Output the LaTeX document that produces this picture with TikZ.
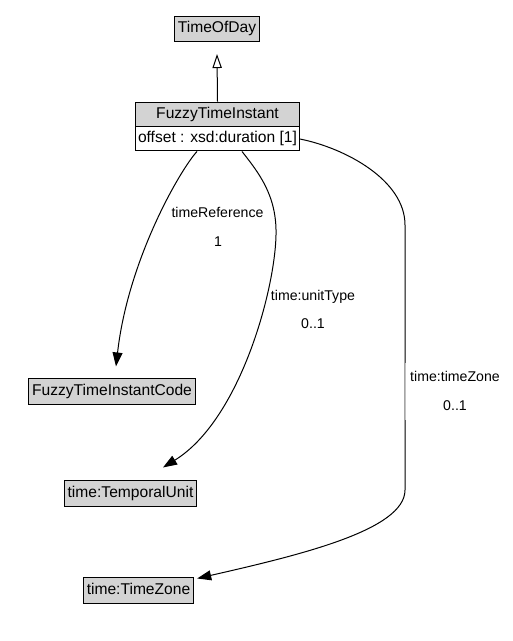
\documentclass[tikz,border=0pt]{standalone}
\usepackage{fontspec}
\setmainfont{Liberation Sans}
\usetikzlibrary{calc,arrows.meta,shapes.multipart}

\definecolor{classgray}{RGB}{211,211,211}
\newcommand{\umlstrut}{\rule[-3pt]{0pt}{12pt}}

\tikzset{every picture/.style={line width=0.75pt}}
\tikzset{
  classbox/.style={draw, fill=classgray, inner xsep=2.6pt, inner ysep=3.4pt,
    text height=9pt, text depth=3pt, font=\fontsize{11.7}{14}\selectfont},
  classsplit/.style={draw, rectangle split, rectangle split parts=2,
    rectangle split part fill={classgray,white}, inner xsep=1.8pt, inner ysep=2.8pt,
    font=\fontsize{11.7}{14}\selectfont},
  edgelabel/.style={inner sep=0pt, text height=9pt, text depth=3pt,
    font=\fontsize{10.6}{13}\selectfont},
  assoc/.style={-{Triangle[length=10.5pt,width=7.5pt]}},
  generalization/.style={-{Triangle[open,length=10.5pt,width=7pt]}}
}

\begin{document}
\begin{tikzpicture}[x=0.75pt,y=0.75pt,yscale=-1,xscale=1]
	\useasboundingbox (0,0) rectangle (512,641);

	% Class Node
	\node[classbox] (tod) at (217,29) {TimeOfDay};
	% Class Node
	\node[classsplit] (fti) at (217.5,126.5) {\umlstrut FuzzyTimeInstant \nodepart{two} \umlstrut offset : xsd:duration [1]};
	% Class Node
	\node[classbox] (code) at (112,391.5) {FuzzyTimeInstantCode};
	% Class Node
	\node[classbox] (unit) at (130.5,493.5) {time:TemporalUnit};
	% Class Node
	\node[classbox] (zone) at (138.5,590.5) {time:TimeZone};

	%Straight Lines
	\draw[generalization] (fti.north) -- ($(tod.south)+(0,12)$);

	%Curve Lines
	\draw[assoc] ($(fti.south)+(-20.5,0)$) .. controls (180,170) and (128,260) .. ($(code.north)+(4,-12)$);
	%Curve Lines
	\draw[assoc] ($(fti.south)+(24.5,0)$) .. controls (258,172) and (277,195) .. (276,235)
		.. controls (275,290) and (240,420) .. ($(unit.north)+(32.5,-13)$);
	%Curve Lines
	\draw[assoc] ($(fti.east)+(0,12.5)$) .. controls (345,148) and (405,180) .. (405,225)
		-- (405,490) .. controls (405,530) and (300,555) .. ($(zone.north east)+(3,1)$);
	\draw[color=classgray!80!gray] (405,362.5) -- (405,420);

	% Text Node
	\node[edgelabel] (refname) at (217.5,214) {timeReference};
	% Text Node
	\node[edgelabel] (refmult) at (218,243) {1};
	% Text Node
	\node[edgelabel] (unitname) at (313,296) {time:unitType};
	% Text Node
	\node[edgelabel] (unitmult) at (313,324) {0..1};
	% Text Node
	\node[edgelabel] (zonename) at (455,377) {time:timeZone};
	% Text Node
	\node[edgelabel] (zonemult) at (455,406) {0..1};

\end{tikzpicture}
\end{document}
